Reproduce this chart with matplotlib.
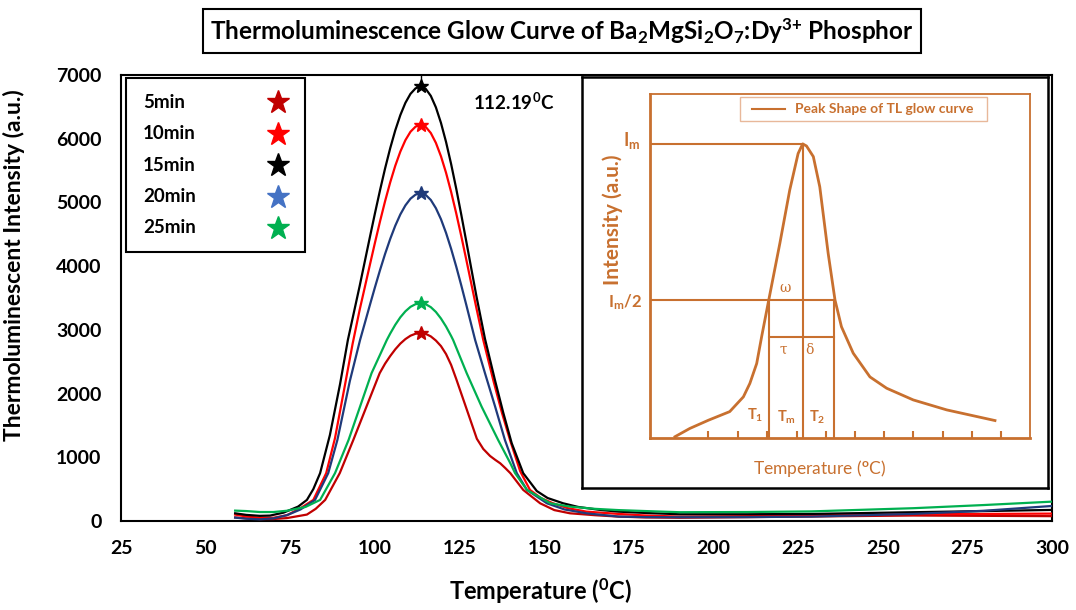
import matplotlib
matplotlib.use('Agg')
import matplotlib.pyplot as plt
from matplotlib.patches import Rectangle

plt.rcParams['font.family'] = ['Lato', 'DejaVu Sans']
plt.rcParams['font.weight'] = 'bold'
plt.rcParams['axes.labelweight'] = 'bold'
plt.rcParams['mathtext.fontset'] = 'custom'
plt.rcParams['mathtext.rm'] = 'Lato:bold'
plt.rcParams['mathtext.it'] = 'Lato:bold'
plt.rcParams['mathtext.bf'] = 'Lato:bold'

###############################################################################
# glow curves (temperature in C, intensity in a.u.)

t_5min = [58.7, 62, 66, 70, 74, 79.9, 82.5, 85.3, 89.6, 93.6, 97.5, 101.4, 103,
          104.5, 106, 107.5, 109, 110.5, 112, 113.5, 115, 116.5, 118, 119.5, 121,
          122.5, 124, 126.6, 130.1, 132, 134, 135.5, 137, 138.5, 140, 143.8,
          148.8, 153, 157.6, 165, 172, 180, 190, 210, 229, 259, 280, 300]
i_5min = [55, 40, 30, 30, 45, 100, 190, 330, 750, 1270, 1795, 2320, 2470,
          2588, 2694, 2784, 2855, 2908, 2939, 2950, 2937, 2897, 2832, 2745, 2620,
          2450, 2230, 1830, 1290, 1130, 1020, 960, 905, 830, 750, 487,
          277, 170, 120, 90, 68, 55, 50, 60, 70, 85, 80, 75]

t_10min = [58.7, 62, 66, 70, 74, 78, 81.8, 85.6, 88.2, 91.2, 93.4, 95.5, 97, 98.5,
           100, 101.5, 103, 104.5, 106, 107.5, 109, 110.5, 112, 113.5, 115, 116.5,
           118, 119.5, 121, 122.5, 124, 125.5, 127, 128.5, 130, 132, 135, 137.5,
           139.9, 142.9, 145.8, 149, 152.6, 157, 162.5, 172, 180, 190, 210, 229,
           259, 280, 300]
i_10min = [100, 70, 50, 50, 90, 200, 330, 750, 1300, 2150, 2780, 3318, 3668, 4020,
           4367, 4703, 5021, 5314, 5575, 5798, 5978, 6110, 6190, 6217, 6185, 6090,
           5935, 5725, 5466, 5165, 4831, 4472, 4097, 3715, 3335, 2840, 2200, 1700,
           1270, 780, 487, 360, 277, 200, 146, 110, 85, 68, 75, 89,
           105, 110, 115]

t_15min = [58.7, 62, 66, 69, 73, 77.3, 79.9, 81.8, 83.8, 86.7, 89.7, 92, 95.5, 97,
           98.5, 100, 101.5, 103, 104.5, 106, 107.5, 109, 110.5, 112, 113.5, 115,
           116.5, 118, 119.5, 121, 122.5, 124, 125.5, 127, 128.5, 130, 132.5,
           135.5, 137.9, 140.4, 143.8, 147.8, 151, 155.6, 160, 166.5, 172, 180,
           190, 210, 229, 259, 280, 300]
i_15min = [120, 95, 80, 84, 130, 225, 330, 500, 750, 1350, 2150, 2840, 3692, 4073,
           4454, 4829, 5192, 5535, 5850, 6131, 6371, 6564, 6705, 6791, 6820, 6783,
           6673, 6493, 6249, 5950, 5603, 5219, 4808, 4382, 3950, 3522, 2860,
           2200, 1700, 1220, 750, 470, 360, 277, 220, 173, 146, 125,
           105, 105, 110, 137, 155, 173]

t_20min = [58.7, 62, 66, 70, 74, 78, 82.3, 86.2, 88.9, 92.6, 95.6, 97, 98.5, 100,
           101.5, 103, 104.5, 106, 107.5, 109, 110.5, 112, 113.5, 115, 116.5, 118,
           119.5, 121, 122.5, 124, 125.5, 127, 128.5, 129.6, 132.5, 135.5, 138.4,
           141.9, 144.9, 150.8, 156, 162.5, 172, 180, 190, 210, 229, 259, 280, 300]
i_20min = [52, 35, 25, 40, 90, 180, 330, 750, 1270, 2200, 2840, 3104, 3389, 3668,
           3938, 4193, 4426, 4634, 4812, 4954, 5059, 5123, 5144, 5118, 5039, 4910,
           4737, 4522, 4272, 3995, 3698, 3388, 3072, 2840, 2320, 1795, 1270,
           750, 487, 277, 180, 120, 68, 60, 58, 60, 68, 110, 160, 235]

t_25min = [58.7, 62, 66, 70, 74, 79.5, 83.8, 88.2, 92.2, 95.6, 99, 103.5, 104.5,
           106, 107.5, 109, 110.5, 112, 113.5, 115, 116.5, 118, 119.5, 121, 122.5,
           123.1, 127.1, 131.5, 136.4, 140, 141.4, 144.9, 151.8, 157.6, 165, 172,
           180, 190, 210, 229, 259, 280, 300]
i_25min = [162, 155, 140, 140, 160, 220, 330, 750, 1270, 1795, 2320, 2840, 2941,
           3079, 3197, 3291, 3361, 3403, 3417, 3402, 3356, 3281, 3178, 3052, 2904,
           2840, 2320, 1795, 1270, 905, 750, 487, 277, 225, 190, 170,
           155, 137, 140, 150, 200, 250, 303]

labels = ['5min', '10min', '15min', '20min', '25min']
curve_colors = ['#C00000', '#FF0000', '#000000', '#1F3A7A', '#00B050']
legend_colors = ['#C00000', '#FF0000', '#000000', '#4472C4', '#00B050']
peak_temp = 113.5
peak_label = '112.19$^0$C'

# inset: sketch of a TL peak (normalised units)
sk_x = [.066, .105, .154, .21, .246, .263, .281, .294, .311, .342, .368, .39, .402,
        .412, .43, .447, .469, .487, .504, .535, .579, .623, .693, .781, .908]
sk_y = [.003, .027, .051, .076, .119, .158, .216, .294, .391, .566, .721, .827, .855,
        .849, .818, .730, .537, .401, .323, .246, .177, .144, .11, .081, .05]
sk_ticks = [.154, .231, .307, .386, .463, .539, .616, .693, .770, .847, .924]
sk_tm, sk_t1, sk_t2 = .402, .313, .484
sk_im, sk_half, sk_tau = .855, .401, .292

###############################################################################

fig = plt.figure(figsize=(10.76, 6.10), dpi=100)
ax = fig.add_axes([0.1125, 0.146, 0.8652, 0.731])

series = [(t_5min, i_5min), (t_10min, i_10min), (t_15min, i_15min),
          (t_20min, i_20min), (t_25min, i_25min)]
for (t, i), c in zip(series, curve_colors):
    ax.plot(t, i, color=c, lw=1.6, zorder=3)
    ax.plot(peak_temp, max(i), marker='*', color=c, ms=10, zorder=4)
ax.plot([peak_temp, peak_temp], [max(i_15min), 7000], color='k', lw=1)

ax.set_xlim(25, 300)
ax.set_ylim(0, 7000)
ax.set_xticks(range(25, 301, 25))
ax.set_yticks(range(0, 7001, 1000))
ax.tick_params(length=0, labelsize=14)
ax.tick_params(axis='y', pad=14)
ax.tick_params(axis='x', pad=14)
for s in ax.spines.values():
    s.set_linewidth(1.5)

ax.set_ylabel('Thermoluminescent Intensity (a.u.)', fontsize=16.5)
ax.yaxis.set_label_coords(-0.103, 0.574)
ax.set_xlabel('Temperature ($^0$C)', fontsize=17)
ax.xaxis.set_label_coords(0.45, -0.125)

ax.text(129, 6580, peak_label, fontsize=13.5, va='center')

# legend box drawn by hand so that text and stars line up like the original
ax.add_patch(Rectangle((0.005, 0.6025), 0.193, 0.39, transform=ax.transAxes,
                       fill=False, ec='k', lw=1.5, zorder=5))
for k, (lab, c) in enumerate(zip(labels, legend_colors)):
    y = 0.939 - k * 0.0705
    ax.text(0.0236, y, lab, transform=ax.transAxes, fontsize=13.5, va='center')
    ax.plot(0.1686, y, marker='*', color=c, ms=17, transform=ax.transAxes,
            clip_on=False)

fig.text(0.522, 0.949,
         'Thermoluminescence Glow Curve of Ba$_2$MgSi$_2$O$_7$:Dy$^{3{+}}$ Phosphor',
         ha='center', va='center', fontsize=17.5,
         bbox=dict(boxstyle='square,pad=0.3', fc='white', ec='k', lw=1.5))

###############################################################################
# inset

box = fig.add_axes([0.541, 0.2, 0.433, 0.674])
box.set_xticks([])
box.set_yticks([])
for s in box.spines.values():
    s.set_linewidth(1.8)
box.set_zorder(5)

orange = '#C8702F'
ax2 = fig.add_axes([0.604, 0.2824, 0.3532, 0.5634])
ax2.set_zorder(6)
ax2.patch.set_alpha(0)
ax2.set_xlim(0, 1)
ax2.set_ylim(0, 1)
for side, s in ax2.spines.items():
    s.set_color(orange)
    s.set_linewidth(2 if side in ('left', 'bottom') else 1.3)
ax2.set_yticks([])
ax2.set_xticks(sk_ticks)
ax2.tick_params(axis='x', direction='in', length=5, width=1.5, color=orange,
                labelbottom=False)

lk = dict(color=orange, lw=1.5)
ax2.plot(sk_x, sk_y, color=orange, lw=2)
ax2.plot([0, sk_tm], [sk_im, sk_im], **lk)
ax2.plot([sk_tm, sk_tm], [0, sk_im], **lk)
ax2.plot([0, sk_t2], [sk_half, sk_half], **lk)
ax2.plot([sk_t1, sk_t1], [0, sk_half], **lk)
ax2.plot([sk_t2, sk_t2], [0, sk_half], **lk)
ax2.plot([sk_t1, sk_t2], [sk_tau, sk_tau], **lk)

gk = dict(color=orange, fontsize=10, family='DejaVu Serif', weight='normal',
          ha='center', va='center')
ax2.text(0.355, 0.435, '\u03c9', **gk)
ax2.text(0.351, 0.255, '\u03c4', **gk)
ax2.text(0.421, 0.255, '\u03b4', **gk)

tk = dict(color=orange, fontsize=10.5, ha='center', va='center')
ax2.text(0.276, 0.065, 'T$_1$', **tk)
ax2.text(0.36, 0.06, 'T$_m$', **tk)
ax2.text(0.439, 0.06, 'T$_2$', **tk)
ax2.text(-0.048, 0.865, 'I$_m$', color=orange, fontsize=13, ha='center',
         va='center')
ax2.text(-0.066, 0.395, 'I$_m$/2', color=orange, fontsize=12, ha='center',
         va='center')
ax2.text(-0.097, 0.634, 'Intensity (a.u.)', color=orange, fontsize=15,
         rotation=90, ha='center', va='center')
ax2.text(0.447, -0.09, 'Temperature ($^o$C)', color=orange, fontsize=12.5,
         weight='normal', ha='center', va='center')

ax2.add_patch(Rectangle((0.237, 0.922), 0.649, 0.068, fill=False,
                        ec='#E8B89A', lw=1))
ax2.plot([0.268, 0.355], [0.956, 0.956], color=orange, lw=1.5)
ax2.text(0.382, 0.956, 'Peak Shape of TL glow curve', color=orange, fontsize=10,
         va='center')

fig.savefig('out.png', dpi=100)
